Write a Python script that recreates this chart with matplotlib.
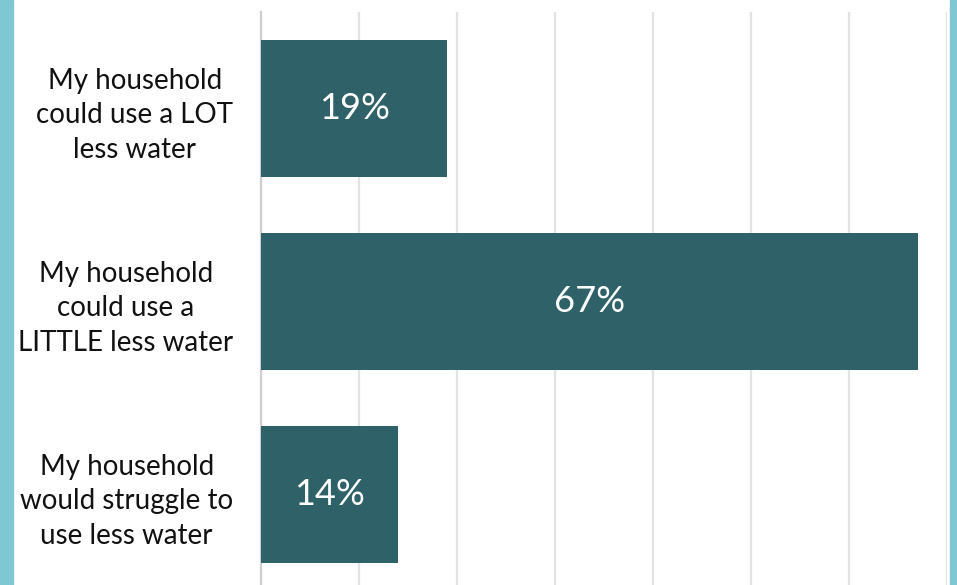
import matplotlib
matplotlib.use("Agg")
import matplotlib.pyplot as plt
from matplotlib.patches import Rectangle

categories = ["My household\ncould use a LOT\nless water",
              "My household\ncould use a\nLITTLE less water",
              "My household\nwould struggle to\nuse less water"]
values = [19, 67, 14]
labels = ["19%", "67%", "14%"]

W, H = 957, 585
fig = plt.figure(figsize=(W/100, H/100), dpi=100)
fig.patch.set_facecolor("white")

border = "#7FC8D3"
fig.patches.append(Rectangle((0, 0), 13/W, 1, transform=fig.transFigure, color=border, zorder=0))
fig.patches.append(Rectangle((950/W, 0), 7/W, 1, transform=fig.transFigure, color=border, zorder=0))

left, right = 261/W, 947/W
top = 1 - 12/H
bottom = -6/H
ax = fig.add_axes([left, bottom, right-left, top-bottom])

ypos = list(range(len(categories)))
ax.barh(ypos, values, height=0.71, color="#2F6168", zorder=3)
ax.set_ylim(2.5, -0.5)
ax.set_xlim(0, 70)
ax.set_xticks(range(0, 71, 10))
ax.xaxis.grid(True, color="#E3E3E3", linewidth=1.6, zorder=0)
ax.tick_params(axis="x", length=0, labelbottom=False)
ax.set_yticks(ypos)
ax.set_yticklabels(categories, fontsize=20, family="Lato", multialignment="center", color="#111111")
ax.tick_params(axis="y", length=0, pad=20)
for t in ax.get_yticklabels():
    t.set_linespacing(1.4)
for s in ["top", "right", "bottom"]:
    ax.spines[s].set_visible(False)
ax.spines["left"].set_color("#D0D0D0")
ax.spines["left"].set_linewidth(1.6)
ax.set_facecolor("none")

for y, v, l in zip(ypos, values, labels):
    ax.text(v/2, y, l, ha="center", va="center", color="white", fontsize=26, family="Lato", zorder=4)

fig.savefig("out.png", dpi=100)
